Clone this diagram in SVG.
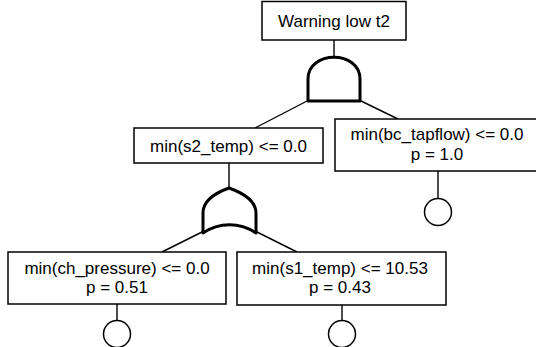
<svg xmlns="http://www.w3.org/2000/svg" width="536" height="347" viewBox="0 0 536 347">
<style>
.box{fill:#fff;stroke:#000;stroke-width:1.5}
.t{font-family:"Liberation Sans",Arial,sans-serif;font-size:17px;fill:#000;text-anchor:middle}
.gate{fill:#fff;stroke:#000;stroke-width:3;stroke-linejoin:round}
.c{stroke:#000;stroke-width:1.4;fill:none}
.ev{fill:#fff;stroke:#000;stroke-width:1.5}
</style>
<rect width="536" height="347" fill="#fff"/>
<g id="connectors">
<line class="c" x1="334" y1="40" x2="334" y2="57"/>
<line class="c" x1="309" y1="100" x2="255" y2="128"/>
<line class="c" x1="359" y1="100" x2="398" y2="119"/>
<line class="c" x1="229" y1="163" x2="229" y2="188"/>
<line class="c" x1="204" y1="231" x2="162" y2="252"/>
<line class="c" x1="255" y1="231" x2="297" y2="252"/>
<line class="c" x1="438" y1="171" x2="438" y2="198"/>
<line class="c" x1="117" y1="304" x2="117" y2="320"/>
<line class="c" x1="342" y1="305" x2="342" y2="320"/>
</g>
<g id="top">
<rect class="box" x="262" y="1.5" width="144" height="38.5"/>
<text class="t" x="334" y="27">Warning low t2</text>
</g>
<g id="and_gate">
<path class="gate" d="M308,101 L308,79 C308,50 360,50 360,79 L360,101 Z"/>
</g>
<g id="s2_temp">
<rect class="box" x="134" y="128" width="189" height="35"/>
<text class="t" x="228.5" y="151.5">min(s2_temp) &lt;= 0.0</text>
</g>
<g id="bc_tapflow">
<rect class="box" x="335" y="119" width="205" height="52"/>
<text class="t" x="437" y="140">min(bc_tapflow) &lt;= 0.0</text>
<text class="t" x="437" y="159.5">p = 1.0</text>
<circle class="ev" cx="438" cy="212" r="13.5"/>
</g>
<g id="or_gate">
<path class="gate" d="M203,233 L203,213 C203,200 215,193 229,188 C243,193 256,200 256,213 L256,233 C240,222 219,222 203,233 Z"/>
</g>
<g id="ch_pressure">
<rect class="box" x="8" y="252" width="218" height="52"/>
<text class="t" x="117" y="273.5">min(ch_pressure) &lt;= 0.0</text>
<text class="t" x="117" y="293">p = 0.51</text>
<circle class="ev" cx="117" cy="334" r="13.5"/>
</g>
<g id="s1_temp">
<rect class="box" x="237" y="252" width="209" height="53"/>
<text class="t" x="340" y="273.5">min(s1_temp) &lt;= 10.53</text>
<text class="t" x="340" y="293">p = 0.43</text>
<circle class="ev" cx="342" cy="334" r="13.5"/>
</g>
</svg>
